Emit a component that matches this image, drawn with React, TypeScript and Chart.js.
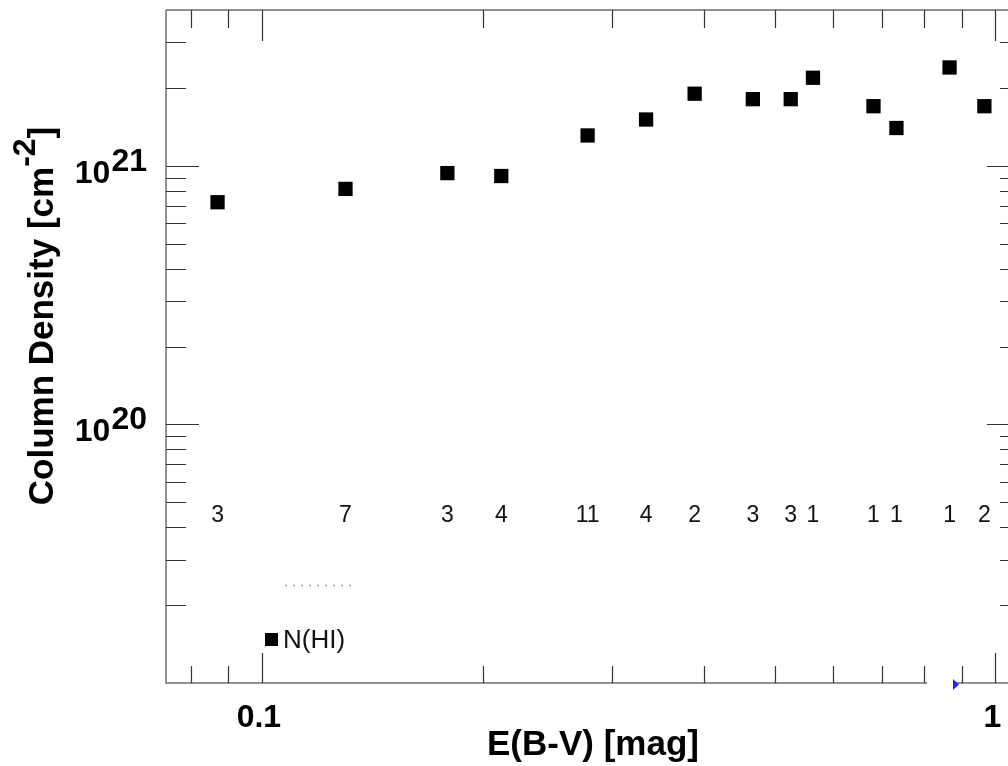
import { useEffect, useRef } from 'react';
import { Chart, registerables } from 'chart.js';

Chart.register(...registerables);

// ---- Data ----
const ebv = [0.087, 0.13, 0.179, 0.212, 0.278, 0.334, 0.389, 0.467, 0.526, 0.564, 0.682, 0.733, 0.866, 0.966];
const nHI = [7.23e20, 8.14e20, 9.37e20, 9.13e20, 1.31e21, 1.51e21, 1.9e21, 1.81e21, 1.81e21, 2.19e21, 1.7e21, 1.4e21, 2.4e21, 1.7e21];
const counts = ['3', '7', '3', '4', '11', '4', '2', '3', '3', '1', '1', '1', '1', '2'];

const xMajorTicks = [0.1, 1];
const xTickLabels = ['0.1', '1'];
const xMinorTicks = [0.08, 0.09, 0.2, 0.3, 0.4, 0.5, 0.6, 0.7, 0.8, 0.9];
const yMajorTicks = [1e20, 1e21];
const yTickExponents = ['20', '21'];
const yMinorTicks = [
  2e19, 3e19, 4e19, 5e19, 6e19, 7e19, 8e19, 9e19,
  2e20, 3e20, 4e20, 5e20, 6e20, 7e20, 8e20, 9e20,
  2e21, 3e21,
];

const X_MIN = 0.074;
const X_MAX = 1.08;
const Y_MIN = 1e19;
const Y_MAX = 4e21;
const COUNT_LABEL_Y = 4.2e19;
const LEGEND_LABEL = 'N(HI)';
const X_TITLE = 'E(B-V) [mag]';
const Y_TITLE_MAIN = 'Column Density [cm';
const Y_TITLE_SUP = '-2';
const Y_TITLE_END = ']';

const FONT = '"Liberation Sans", Arial, Helvetica, sans-serif';

const decorPlugin = {
  id: 'decor',
  afterDraw(chart: any) {
    const ctx = chart.ctx as CanvasRenderingContext2D;
    const xs = chart.scales.x;
    const ys = chart.scales.y;
    const { left, right, top, bottom } = chart.chartArea;
    ctx.save();

    // frame
    ctx.strokeStyle = '#6e6e6e';
    ctx.lineWidth = 1.5;
    ctx.beginPath();
    ctx.moveTo(left, top);
    ctx.lineTo(right, top);
    ctx.lineTo(right, bottom);
    ctx.lineTo(953, bottom);
    ctx.moveTo(927, bottom);
    ctx.lineTo(left, bottom);
    ctx.lineTo(left, top);
    ctx.stroke();

    // ticks
    ctx.strokeStyle = '#333';
    ctx.lineWidth = 1.2;
    ctx.beginPath();
    const xt = (v: number, major: boolean) => {
      const px = Math.round(xs.getPixelForValue(v)) + 0.5;
      const lb = major ? 30 : 17;
      const lt = major ? 31 : 18;
      ctx.moveTo(px, bottom);
      ctx.lineTo(px, bottom - lb);
      ctx.moveTo(px, top);
      ctx.lineTo(px, top + lt);
    };
    const yt = (v: number, major: boolean) => {
      const py = Math.round(ys.getPixelForValue(v)) + 0.5;
      const l = major ? 33 : 20;
      ctx.moveTo(left, py);
      ctx.lineTo(left + l, py);
      ctx.moveTo(right, py);
      ctx.lineTo(right - l, py);
    };
    xMajorTicks.forEach((v) => xt(v, true));
    xMinorTicks.forEach((v) => xt(v, false));
    yMajorTicks.forEach((v) => yt(v, true));
    yMinorTicks.forEach((v) => yt(v, false));
    ctx.stroke();

    // x tick labels
    ctx.fillStyle = '#000';
    ctx.font = `bold 32px ${FONT}`;
    ctx.textAlign = 'center';
    ctx.textBaseline = 'alphabetic';
    xMajorTicks.forEach((v, i) => {
      ctx.fillText(xTickLabels[i], xs.getPixelForValue(v) - 3, 727);
    });

    // y tick labels: 10^n
    yMajorTicks.forEach((v, i) => {
      const py = ys.getPixelForValue(v);
      ctx.font = `bold 32px ${FONT}`;
      ctx.textAlign = 'right';
      const supW = ctx.measureText(yTickExponents[i]).width;
      ctx.fillText(yTickExponents[i], 147, py + 5);
      ctx.fillText('10', 147 - supW - 1, py + 17);
    });

    // axis titles
    ctx.font = `bold 35px ${FONT}`;
    ctx.textAlign = 'center';
    ctx.fillText(X_TITLE, (left + right) / 2, 755);

    ctx.save();
    ctx.translate(53, 316);
    ctx.rotate(-Math.PI / 2);
    ctx.textAlign = 'left';
    ctx.font = `bold 35px ${FONT}`;
    const wMain = ctx.measureText(Y_TITLE_MAIN).width;
    const wEnd = ctx.measureText(Y_TITLE_END).width;
    ctx.font = `bold 32px ${FONT}`;
    const wSup = ctx.measureText(Y_TITLE_SUP).width;
    const total = wMain + wSup + wEnd;
    let x0 = -total / 2;
    ctx.font = `bold 35px ${FONT}`;
    ctx.fillText(Y_TITLE_MAIN, x0, 0);
    x0 += wMain;
    ctx.font = `bold 32px ${FONT}`;
    ctx.fillText(Y_TITLE_SUP, x0, -18);
    x0 += wSup;
    ctx.font = `bold 35px ${FONT}`;
    ctx.fillText(Y_TITLE_END, x0, 0);
    ctx.restore();

    // number counts
    ctx.font = `23px ${FONT}`;
    ctx.textAlign = 'center';
    ctx.fillStyle = '#111';
    const cy = ys.getPixelForValue(COUNT_LABEL_Y);
    ebv.forEach((v, i) => {
      ctx.fillText(counts[i], xs.getPixelForValue(v), cy);
    });

    // legend
    ctx.fillStyle = '#000';
    ctx.fillRect(265, 633, 13, 13);
    ctx.font = `26px ${FONT}`;
    ctx.textAlign = 'left';
    ctx.fillStyle = '#111';
    ctx.fillText(LEGEND_LABEL, 283, 648);

    // faint remnants
    ctx.strokeStyle = 'rgba(110,180,40,0.9)';
    ctx.lineWidth = 1.5;
    ctx.setLineDash([2, 6]);
    ctx.beginPath();
    ctx.moveTo(285, 585.5);
    ctx.lineTo(352, 585.5);
    ctx.stroke();
    ctx.setLineDash([]);

    ctx.fillStyle = '#2a20ff';
    ctx.beginPath();
    ctx.moveTo(953, 679);
    ctx.lineTo(959, 684.5);
    ctx.lineTo(953, 690);
    ctx.closePath();
    ctx.fill();

    ctx.restore();
  },
};

export default function App() {
  const ref = useRef<HTMLCanvasElement | null>(null);

  useEffect(() => {
    if (!ref.current) return;
    const chart = new Chart(ref.current, {
      type: 'scatter',
      data: {
        datasets: [
          {
            label: LEGEND_LABEL,
            data: ebv.map((x, i) => ({ x, y: nHI[i] })),
            pointStyle: 'rect',
            pointRadius: 10.1,
            pointHoverRadius: 10.1,
            backgroundColor: '#000',
            borderColor: '#000',
            borderWidth: 0,
          },
        ],
      },
      options: {
        animation: false,
        responsive: false,
        events: [],
        layout: { padding: { left: 166, top: 9, right: 10, bottom: 83 } },
        plugins: { legend: { display: false }, tooltip: { enabled: false } },
        scales: {
          x: {
            type: 'logarithmic',
            min: X_MIN,
            max: X_MAX,
            ticks: { display: false },
            grid: { display: false, drawTicks: false, tickLength: 0 },
            border: { display: false },
          },
          y: {
            type: 'logarithmic',
            min: Y_MIN,
            max: Y_MAX,
            ticks: { display: false },
            grid: { display: false, drawTicks: false, tickLength: 0 },
            border: { display: false },
          },
        },
      },
      plugins: [decorPlugin],
    });
    return () => chart.destroy();
  }, []);

  return (
    <div style={{ position: 'absolute', left: 0, top: 0, width: 1008, height: 766, overflow: 'hidden', background: '#fff' }}>
      <canvas ref={ref} width={1030} height={766} style={{ width: 1030, height: 766, display: 'block' }} />
    </div>
  );
}
